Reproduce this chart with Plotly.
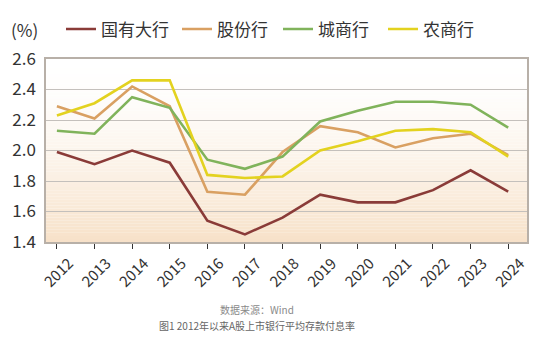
import plotly.graph_objects as go

years = ["2012", "2013", "2014", "2015", "2016", "2017", "2018", "2019", "2020", "2021", "2022", "2023", "2024"]
state_owned = [1.99, 1.91, 2.00, 1.92, 1.54, 1.45, 1.56, 1.71, 1.66, 1.66, 1.74, 1.87, 1.73]
joint_stock = [2.29, 2.21, 2.42, 2.29, 1.73, 1.71, 1.99, 2.16, 2.12, 2.02, 2.08, 2.11, 1.97]
city_comm = [2.13, 2.11, 2.35, 2.28, 1.94, 1.88, 1.96, 2.19, 2.26, 2.32, 2.32, 2.30, 2.15]
rural_comm = [2.23, 2.31, 2.46, 2.46, 1.84, 1.82, 1.83, 2.00, 2.06, 2.13, 2.14, 2.12, 1.96]

series = [
    ("国有大行", state_owned, "#8a3b38"),
    ("股份行", joint_stock, "#d9a062"),
    ("城商行", city_comm, "#80b35b"),
    ("农商行", rural_comm, "#e3d21f"),
]

W, H = 554, 342
ML, MR, MT, MB = 46, 27, 56, 100
PW = W - ML - MR
PH = H - MT - MB

legend_px = [61, 177, 278, 383]
legend_ids = ["legend", "legend2", "legend3", "legend4"]

fig = go.Figure()
xs = list(range(len(years)))
for (name, vals, color), lid in zip(series, legend_ids):
    fig.add_trace(go.Scatter(x=xs, y=vals, name=name, mode="lines", legend=lid,
                             line=dict(color=color, width=2.6)))

# vertical gradient background (white at top -> peach at bottom)
shapes = []
n = 60
top = (255, 255, 255)
bot = (247, 225, 200)
for i in range(n):
    f0 = i / n
    t = (f0 + 0.5 / n)
    w = t ** 1.6
    c = tuple(round(top[k] * (1 - w) + bot[k] * w) for k in range(3))
    y1 = 1 - f0
    y0 = 1 - (i + 1) / n
    shapes.append(dict(type="rect", xref="x domain", yref="y domain",
                       x0=0, x1=1, y0=y0, y1=y1, layer="below",
                       line=dict(width=0), fillcolor="rgb(%d,%d,%d)" % c))

legends = {}
for lid, px in zip(legend_ids, legend_px):
    legends[lid] = dict(orientation="h", x=(px - ML) / PW, xanchor="left",
                        y=1 + (MT - 26) / PH, yanchor="middle",
                        font=dict(size=17, color="#333333"),
                        bgcolor="rgba(0,0,0,0)", itemwidth=30)

fig.update_layout(
    width=W, height=H,
    margin=dict(l=ML, r=MR, t=MT, b=MB),
    paper_bgcolor="white",
    plot_bgcolor="rgba(0,0,0,0)",
    shapes=shapes,
    font=dict(family="Noto Sans CJK SC", color="#333333"),
    showlegend=True,
    **legends,
    xaxis=dict(
        range=[-0.29, 12.5],
        tickmode="array", tickvals=xs, ticktext=years,
        tickangle=-45, ticks="outside", ticklen=5, tickcolor="#333333",
        tickfont=dict(size=15, color="#333333"),
        ticklabelshift=12,
        showgrid=False, zeroline=False,
        showline=True, linecolor="#b8b0a8", linewidth=1.5, mirror=True,
    ),
    yaxis=dict(
        range=[1.4, 2.6], dtick=0.2, tickformat=".1f",
        showgrid=True, gridcolor="#c4c0bc", gridwidth=1,
        tickfont=dict(size=17, color="#333333"),
        zeroline=False,
        showline=True, linecolor="#b8b0a8", linewidth=1.5, mirror=True,
        ticks="", ticklabelstandoff=5,
    ),
    annotations=[
        dict(text="(%)", xref="paper", yref="paper", x=(9 - ML) / PW, y=1 + (MT - 26) / PH,
             xanchor="left", yanchor="middle", showarrow=False,
             font=dict(size=17, color="#333333")),
        dict(text="数据来源：Wind", xref="paper", yref="paper",
             x=(257 - ML) / PW, y=-(311 - MT - PH) / PH, xanchor="center", yanchor="middle",
             showarrow=False, font=dict(size=10, color="#8a8a8a")),
        dict(text="图1 2012年以来A股上市银行平均存款付息率", xref="paper", yref="paper",
             x=(257 - ML) / PW, y=-(327 - MT - PH) / PH, xanchor="center", yanchor="middle",
             showarrow=False, font=dict(size=10, color="#666666")),
    ],
)

fig.write_html("out.html")
